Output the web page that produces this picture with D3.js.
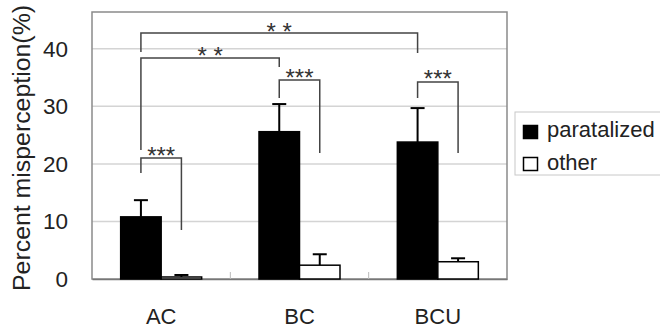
<!DOCTYPE html>
<html>
<head>
<meta charset="utf-8">
<script src="https://cdn.jsdelivr.net/npm/d3@7"></script>
<style>
  body { margin: 0; background: #fff; }
  svg { display: block; font-family: "Liberation Sans", Arial, sans-serif; }
</style>
</head>
<body>
<svg id="chart" width="660" height="329"></svg>
<script>
const categories = ["AC", "BC", "BCU"];
const seriesNames = ["paratalized", "other"];
const paratalized = [10.8, 25.6, 23.8];
const paratalizedErr = [13.7, 30.4, 29.7];
const other = [0.35, 2.4, 3.0];
const otherErr = [0.7, 4.3, 3.6];
const yTicks = [0, 10, 20, 30, 40];

// significance brackets: [group, series] of each end, and the label
const brackets = [
  { a: [0, 0], b: [0, 1], label: "***" },
  { a: [1, 0], b: [1, 1], label: "***" },
  { a: [2, 0], b: [2, 1], label: "***" },
  { a: [0, 0], b: [1, 0], label: "* *" },
  { a: [0, 0], b: [2, 0], label: "* *" }
];

const svg = d3.select("#chart");
const plotL = 92, plotR = 507, plotT = 12, plotB = 279;

const y = d3.scaleLinear().domain([0, 46.4]).range([plotB, plotT]);
const x0 = d3.scaleBand().domain(categories).range([plotL, plotR]).padding(0);
const groupW = 81;
const x1 = d3.scaleBand().domain(seriesNames).range([0, groupW]);
const gx = c => x0(c) + (x0.bandwidth() - groupW) / 2;

const rows = categories.map((c, i) => ({
  cat: c,
  vals: [
    { s: "paratalized", v: paratalized[i], e: paratalizedErr[i] },
    { s: "other", v: other[i], e: otherErr[i] }
  ]
}));

// grid lines
svg.append("g").selectAll("line").data(yTicks.filter(t => t > 0)).join("line")
  .attr("x1", plotL).attr("x2", plotR)
  .attr("y1", d => y(d)).attr("y2", d => y(d))
  .attr("stroke", "#d4d4d4").attr("stroke-width", 1.5);

// frame
svg.append("rect").attr("x", plotL).attr("y", plotT)
  .attr("width", plotR - plotL).attr("height", plotB - plotT)
  .attr("fill", "none").attr("stroke", "#8a8a8a").attr("stroke-width", 1.5);

// y axis labels
const yAxis = d3.axisLeft(y).tickValues(yTicks).tickSize(0).tickPadding(24);
const ya = svg.append("g").attr("transform", `translate(${plotL},0)`).call(yAxis);
ya.select(".domain").remove();
ya.selectAll("text").attr("font-size", 22.5).attr("fill", "#222");

// x axis
const xAxis = d3.axisBottom(x0).tickSize(0).tickPadding(29);
const xa = svg.append("g").attr("transform", `translate(0,${plotB})`).call(xAxis);
xa.select(".domain").attr("stroke", "#777").attr("stroke-width", 1.5);
xa.selectAll("text").attr("font-size", 22).attr("fill", "#222");

// small category boundary ticks
svg.append("g").selectAll("line").data(categories.slice(1)).join("line")
  .attr("x1", d => x0(d)).attr("x2", d => x0(d))
  .attr("y1", plotB - 7).attr("y2", plotB)
  .attr("stroke", "#bbb").attr("stroke-width", 1);

// y title
svg.append("text")
  .attr("transform", "translate(30,148) rotate(-90)")
  .attr("text-anchor", "middle")
  .attr("font-size", 23).attr("fill", "#222")
  .attr("textLength", 286).attr("lengthAdjust", "spacingAndGlyphs")
  .text("Percent misperception(%)");

// bars
const groups = svg.append("g").selectAll("g").data(rows).join("g")
  .attr("transform", d => `translate(${gx(d.cat)},0)`);

groups.selectAll("line.err").data(d => d.vals).join("line")
  .attr("class", "err")
  .attr("x1", d => x1(d.s) + x1.bandwidth() / 2).attr("x2", d => x1(d.s) + x1.bandwidth() / 2)
  .attr("y1", d => y(d.v)).attr("y2", d => y(d.e))
  .attr("stroke", "#000").attr("stroke-width", 2);
groups.selectAll("line.cap").data(d => d.vals).join("line")
  .attr("class", "cap")
  .attr("x1", d => x1(d.s) + x1.bandwidth() / 2 - 7).attr("x2", d => x1(d.s) + x1.bandwidth() / 2 + 7)
  .attr("y1", d => y(d.e)).attr("y2", d => y(d.e))
  .attr("stroke", "#000").attr("stroke-width", 2);

groups.selectAll("rect").data(d => d.vals).join("rect")
  .attr("x", d => x1(d.s)).attr("width", x1.bandwidth())
  .attr("y", d => y(d.v)).attr("height", d => y(0) - y(d.v))
  .attr("fill", d => d.s === "paratalized" ? "#000" : "#fff")
  .attr("stroke", "#000").attr("stroke-width", 1.5);

// significance brackets
const cx = (g, s) => gx(categories[g]) + x1(seriesNames[s]) + x1.bandwidth() / 2;
const bracketLayout = [
  { top: 158, la: 173, lb: 230, ty: 150 },
  { top: 80, la: 98, lb: 153, ty: 72 },
  { top: 82, la: 98, lb: 153, ty: 73 },
  { top: 58, la: 150, lb: 67, ty: 50 },
  { top: 33, la: 52, lb: 53, ty: 26 }
];
const bg = svg.append("g");
brackets.forEach((b, i) => {
  const L = bracketLayout[i];
  const xa_ = cx(b.a[0], b.a[1]);
  const xb_ = cx(b.b[0], b.b[1]);
  bg.append("path")
    .attr("d", `M${xa_},${L.la}V${L.top}H${xb_}V${L.lb}`)
    .attr("fill", "none").attr("stroke", "#444").attr("stroke-width", 1.5);
  bg.append("text")
    .attr("x", (xa_ + xb_) / 2).attr("y", L.ty + 13.5)
    .attr("text-anchor", "middle")
    .attr("font-size", 24)
    .attr("fill", "#333")
    .text(b.label);
});

// legend
const lg = svg.append("g").attr("transform", "translate(515,112)");
lg.append("rect").attr("width", 160).attr("height", 63)
  .attr("fill", "#fff").attr("stroke", "#c8c8c8").attr("stroke-width", 1);
seriesNames.forEach((s, i) => {
  lg.append("rect").attr("x", 8.5).attr("y", 13.5 + i * 32).attr("width", 14).attr("height", 13)
    .attr("fill", s === "paratalized" ? "#000" : "#fff")
    .attr("stroke", "#000").attr("stroke-width", 1.5);
  lg.append("text").attr("x", 32).attr("y", 25 + i * 33)
    .attr("font-size", 22).attr("fill", "#222").text(s);
});
</script>
</body>
</html>
